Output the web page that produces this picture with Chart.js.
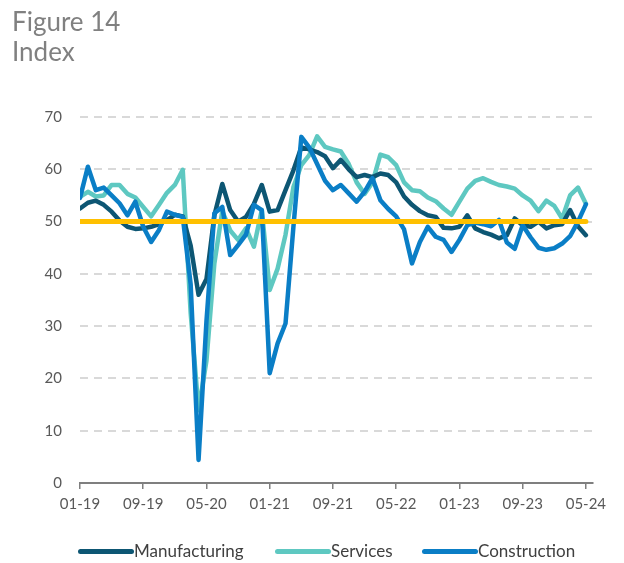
<!DOCTYPE html>
<html>
<head>
<meta charset="utf-8">
<script src="https://cdn.jsdelivr.net/npm/chart.js@4.4.1/dist/chart.umd.min.js"></script>
<style>
  body { margin: 0; background: #fff; }
  #wrap { position: relative; width: 624px; height: 563px; overflow: hidden; font-family: Lato, sans-serif; }
  #chart { position: absolute; left: 0; top: 0; }
  .head { position: absolute; left: 12px; color: #808080; font-size: 26px; line-height: 30px; }
  .legend { position: absolute; top: 541px; left: 0; font-size: 17px; color: #404040; }
  .legend span.item { position: absolute; white-space: nowrap; line-height: 20px; }
  .legend i { display: inline-block; width: 56px; height: 5px; border-radius: 3px; vertical-align: middle; margin-right: 0; position: relative; top: -1px; }
</style>
</head>
<body>
<div id="wrap">
  <canvas id="chart" width="624" height="563"></canvas>
  <div class="head" style="top:6px">Figure 14</div>
  <div class="head" style="top:36px">Index</div>
  <div class="legend" id="legend"></div>
</div>
<script>
// x axis: monthly from 01-19 to 05-24, a label every 8 months
const monthCount = 65;
const xTickLabels = ["01-19", "09-19", "05-20", "01-21", "09-21", "05-22", "01-23", "09-23", "05-24"];
const yTicks = [0, 10, 20, 30, 40, 50, 60, 70];
const threshold = 50;

const manufacturing = [
  52.5, 53.6, 54.0, 53.2, 51.9, 50.2, 49.0, 48.6, 48.7, 49.0, 49.5, 50.3,
  51.3, 51.0, 45.4, 36.0, 39.0, 51.2, 57.2, 52.2, 50.0, 50.9, 53.4, 57.0,
  51.9, 52.2, 56.0, 59.8, 64.2, 63.8, 63.3, 62.5, 60.2, 61.8, 60.0, 58.5,
  58.9, 58.5, 59.2, 58.9, 57.5, 54.8, 53.2, 52.0, 51.2, 50.9, 48.8, 48.7,
  49.0, 51.2, 48.7, 48.0, 47.5, 46.8, 47.4, 50.6, 49.3, 49.0, 50.0, 48.7,
  49.3, 49.5, 52.2, 49.1, 47.4
];
const services = [
  54.7, 55.7, 54.8, 55.0, 57.0, 57.0, 55.3, 54.6, 52.8, 51.0, 53.2, 55.5,
  57.0, 59.9, 32.5, 13.9, 23.4, 42.0, 52.0, 48.3, 46.5, 48.7, 45.2, 52.2,
  36.9, 41.0, 47.5, 56.6, 60.8, 62.7, 66.3, 64.3, 63.8, 63.4, 61.0, 57.5,
  55.3, 57.5, 62.8, 62.3, 60.8, 57.5, 56.0, 55.8, 54.6, 53.9, 52.5, 51.3,
  53.8, 56.3, 57.8, 58.3, 57.6, 57.0, 56.7, 56.3, 55.0, 54.0, 52.0, 54.0,
  53.0, 50.6, 55.0, 56.5, 53.4
];
const construction = [
  54.5, 60.5, 56.0, 56.5, 55.0, 53.5, 51.2, 53.8, 49.0, 46.1, 48.4, 51.9,
  51.3, 50.9, 38.0, 4.4, 31.0, 51.6, 52.8, 43.6, 45.5, 47.5, 53.2, 52.2,
  21.0, 26.7, 30.5, 49.0, 66.2, 64.2, 61.0, 57.8, 56.0, 57.0, 55.4, 53.8,
  55.7, 58.3, 54.1, 52.4, 51.0, 48.5, 42.0, 46.1, 49.0, 47.1, 46.5, 44.2,
  46.5, 49.3, 49.8, 49.5, 49.1, 50.3, 46.0, 44.8, 49.3, 47.0, 45.0, 44.6,
  44.9, 45.8, 47.2, 50.0, 53.3
];

const seriesNames = ["Manufacturing", "Services", "Construction"];
const seriesColors = ["#0d5673", "#5ec8c1", "#0a7ec6"];
const lineColor50 = "#ffc000";

function toPoints(arr) {
    return arr.map((v, i) => ({ x: i, y: v }));
}

const baseline = [];
for (let i = 0; i < monthCount; i++) baseline.push(threshold);

const seriesData = [manufacturing, services, construction];
const drawOrder = [2, 3, 1];

const datasets = seriesData.map((arr, k) => ({
    label: seriesNames[k],
    data: toPoints(arr),
    borderColor: seriesColors[k],
    borderWidth: 4.5,
    pointRadius: 0,
    tension: 0,
    borderJoinStyle: "round",
    borderCapStyle: "round",
    order: drawOrder[k]
}));

datasets.push({
    label: "50",
    data: toPoints(baseline),
    borderColor: lineColor50,
    borderWidth: 5,
    pointRadius: 0,
    borderCapStyle: "round",
    order: 0
});

const tickFont = { family: "Lato", size: 15 };

new Chart(document.getElementById("chart"), {
    type: "line",
    data: { datasets: datasets },
    options: {
        responsive: false,
        animation: false,
        devicePixelRatio: 1,
        layout: { padding: { left: 44, right: 31, top: 117, bottom: 40 } },
        plugins: { legend: { display: false }, tooltip: { enabled: false } },
        scales: {
            x: {
                type: "linear",
                min: 0,
                max: 64.9,
                afterFit: s => { s.height = 40; },
                afterBuildTicks: s => { s.ticks = xTickLabels.map((t, i) => ({ value: i * 8 })); },
                ticks: {
                    autoSkip: false,
                    maxRotation: 0,
                    padding: 6,
                    color: "#595959",
                    font: tickFont,
                    callback: v => xTickLabels[v / 8]
                },
                grid: { drawOnChartArea: false, drawTicks: true, tickLength: 6, color: "#7f7f7f", lineWidth: 1.5 },
                border: { display: true, color: "#7f7f7f", width: 2 }
            },
            y: {
                min: 0,
                max: 70,
                afterFit: s => { s.width = 36; },
                afterBuildTicks: s => { s.ticks = yTicks.map(v => ({ value: v })); },
                ticks: { padding: 18, color: "#595959", font: tickFont },
                grid: { drawTicks: false, color: "#d9d9d9", lineWidth: 2 },
                border: { display: false, dash: [8, 6] }
            }
        }
    }
});

// legend
const legend = document.getElementById("legend");
const legendX = [78, 275, 422];
seriesNames.forEach((n, k) => {
    const s = document.createElement("span");
    s.className = "item";
    s.style.left = legendX[k] + "px";
    s.innerHTML = `<i style="background:${seriesColors[k]}"></i>${n}`;
    legend.appendChild(s);
});
</script>
</body>
</html>
